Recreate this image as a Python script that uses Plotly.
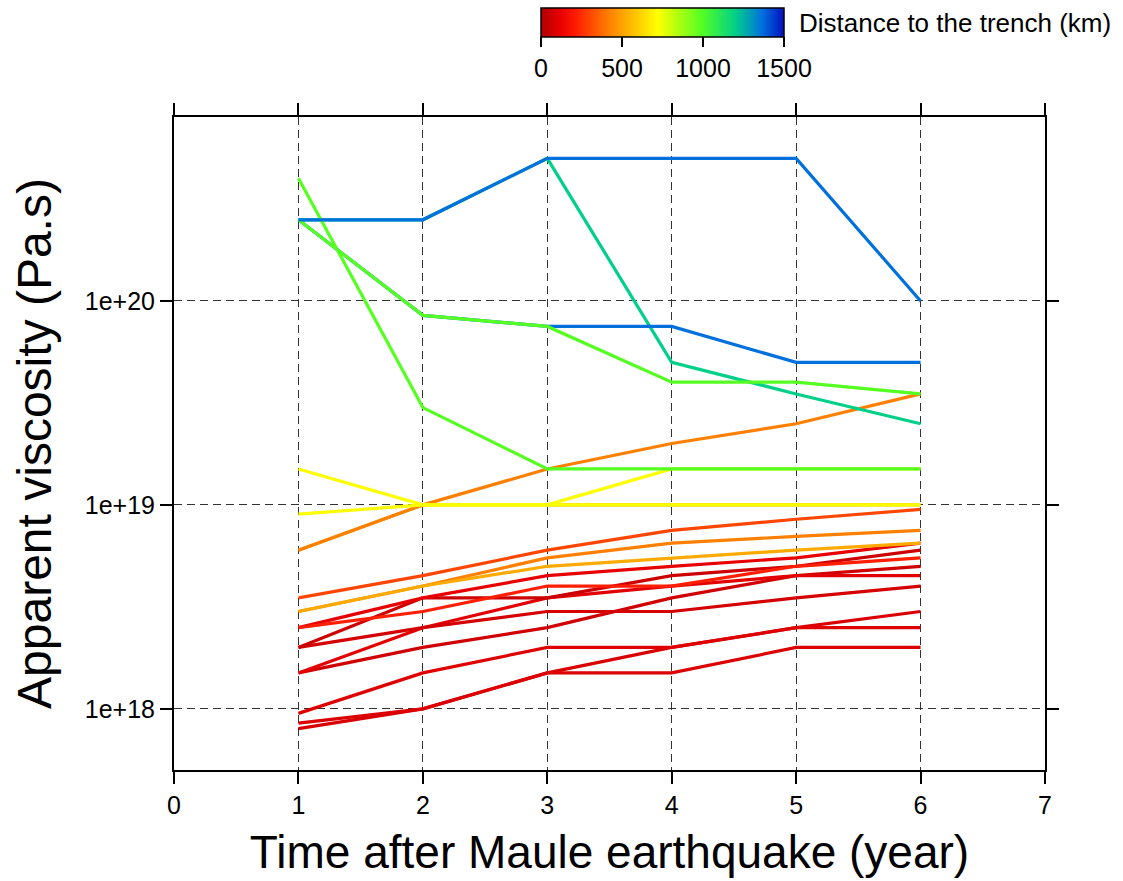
import plotly.graph_objects as go
from plotly.colors import sample_colorscale

# Years after the Maule earthquake
years = [1, 2, 3, 4, 5, 6]

# Distance of each station to the trench (km)
dist_L3 = 90
dist_L2 = 95
dist_L1 = 100
dist_R5 = 70
dist_R4 = 110
dist_R3 = 80
dist_R2 = 60
dist_R1 = 120
dist_OR = 220
dist_RO1 = 300
dist_O2 = 420
dist_AM = 520
dist_AM2 = 520
dist_OT = 420
dist_YA = 725
dist_YB = 725
dist_TE = 1200
dist_B2 = 1365
dist_GB = 990
dist_GA = 990
dist_B1 = 1365

# Apparent viscosity (Pa.s) per station
visc_L3 = [8.0e17, 1.0e18, 1.5e18, 2.0e18, 2.5e18, 3.0e18]
visc_L2 = [8.5e17, 1.0e18, 1.5e18, 1.5e18, 2.0e18, 2.0e18]
visc_L1 = [9.5e17, 1.5e18, 2.0e18, 2.0e18, 2.5e18, 2.5e18]
visc_R5 = [1.5e18, 2.0e18, 2.5e18, 3.5e18, 4.5e18, 5.0e18]
visc_R4 = [1.5e18, 2.5e18, 3.5e18, 4.0e18, 4.5e18, 4.5e18]
visc_R3 = [2.0e18, 2.5e18, 3.0e18, 3.0e18, 3.5e18, 4.0e18]
visc_R2 = [2.0e18, 3.5e18, 3.5e18, 4.5e18, 5.0e18, 6.0e18]
visc_R1 = [2.5e18, 3.5e18, 4.5e18, 5.0e18, 5.5e18, 6.5e18]
visc_OR = [2.5e18, 3.0e18, 4.0e18, 4.0e18, 5.0e18, 5.5e18]
visc_RO1 = [3.5e18, 4.5e18, 6.0e18, 7.5e18, 8.5e18, 9.5e18]
visc_O2 = [3.0e18, 4.0e18, 5.5e18, 6.5e18, 7.0e18, 7.5e18]
visc_AM = [3.0e18, 4.0e18, 5.0e18, 5.5e18, 6.0e18, 6.5e18]
visc_AM2 = [6.0e18, 1.0e19, 1.0e19, 1.0e19, 1.0e19, 1.0e19]
visc_OT = [6.0e18, 1.0e19, 1.5e19, 2.0e19, 2.5e19, 3.5e19]
visc_YA = [1.5e19, 1.0e19, 1.0e19, 1.5e19, 1.5e19, 1.5e19]
visc_YB = [9.0e18, 1.0e19, 1.0e19, 1.0e19, 1.0e19, 1.0e19]
visc_TE = [2.5e20, 2.5e20, 5.0e20, 5.0e19, 3.5e19, 2.5e19]
visc_B2 = [2.5e20, 8.5e19, 7.5e19, 7.5e19, 5.0e19, 5.0e19]
visc_GB = [2.5e20, 8.5e19, 7.5e19, 4.0e19, 4.0e19, 3.5e19]
visc_GA = [4.0e20, 3.0e19, 1.5e19, 1.5e19, 1.5e19, 1.5e19]
visc_B1 = [2.5e20, 2.5e20, 5.0e20, 5.0e20, 5.0e20, 1.0e20]

# Drawing order (later lines on top)
stations = [
    (dist_L3, visc_L3), (dist_L2, visc_L2), (dist_L1, visc_L1),
    (dist_R5, visc_R5), (dist_R4, visc_R4), (dist_R3, visc_R3),
    (dist_R2, visc_R2), (dist_R1, visc_R1), (dist_OR, visc_OR),
    (dist_RO1, visc_RO1), (dist_O2, visc_O2), (dist_AM, visc_AM),
    (dist_AM2, visc_AM2), (dist_OT, visc_OT), (dist_YA, visc_YA),
    (dist_YB, visc_YB), (dist_TE, visc_TE), (dist_B2, visc_B2),
    (dist_GB, visc_GB), (dist_GA, visc_GA), (dist_B1, visc_B1),
]

dist_min, dist_max = 0, 1500
cbar_ticks = [0, 500, 1000, 1500]
cbar_title = "Distance to the trench (km)"
y_ticks = [1e18, 1e19, 1e20]
y_ticktext = ["1e+18", "1e+19", "1e+20"]
x_ticks = [0, 1, 2, 3, 4, 5, 6, 7]

rainbow = [
    [0.00, "#b00000"],
    [0.08, "#e80000"],
    [0.14, "#ff1a00"],
    [0.28, "#ff8000"],
    [0.48, "#ffff00"],
    [0.66, "#55ff22"],
    [0.80, "#00d088"],
    [0.91, "#0070dd"],
    [1.00, "#0010c0"],
]

# plot area in pixels
L, R, T, B = 174, 1045, 117, 770
W, H = 1123, 881

fig = go.Figure()

for d, v in stations:
    c = sample_colorscale(rainbow, [(d - dist_min) / (dist_max - dist_min)])[0]
    fig.add_trace(go.Scatter(x=years, y=v, mode="lines",
                             line=dict(color=c, width=3.2),
                             showlegend=False, hoverinfo="skip"))

# Colour scale for the station distance
fig.add_trace(go.Scatter(
    x=[None], y=[None], mode="markers", showlegend=False,
    marker=dict(
        color=[dist_min], cmin=dist_min, cmax=dist_max, colorscale=rainbow,
        showscale=True,
        colorbar=dict(
            orientation="h",
            x=(541 - L) / (R - L), xanchor="left",
            y=(B - 8) / (B - T), yanchor="top",
            len=243, lenmode="pixels",
            thickness=29, thicknessmode="pixels",
            xpad=0, ypad=0,
            outlinewidth=1.5, outlinecolor="black",
            ticks="outside", ticklen=10, tickwidth=1.5, tickcolor="black",
            tickvals=cbar_ticks,
            tickfont=dict(size=25, color="black"),
        ),
    ),
))

fig.add_annotation(
    text=cbar_title, xref="paper", yref="paper",
    x=(797 - L) / (R - L), y=(B - 23) / (B - T),
    xanchor="left", yanchor="middle", showarrow=False,
    font=dict(size=26, color="black"),
)

fig.update_layout(
    width=W, height=H,
    margin=dict(l=L, r=W - R, t=T, b=H - B, autoexpand=False),
    paper_bgcolor="white", plot_bgcolor="white",
    font=dict(family="Liberation Sans, Arial, sans-serif", color="black"),
)

fig.update_xaxes(
    range=[0, 7], tickvals=x_ticks,
    showgrid=True, gridcolor="#333333", gridwidth=1, griddash="8px,5px",
    showline=True, linecolor="black", linewidth=2, mirror="ticks",
    ticks="outside", ticklen=12, tickwidth=1.5, tickcolor="black",
    tickfont=dict(size=25), zeroline=False,
    title=dict(text="Time after Maule earthquake (year)",
               font=dict(size=46), standoff=18),
)

fig.update_yaxes(
    type="log", range=[17.70, 20.902],
    tickvals=y_ticks, ticktext=y_ticktext,
    showgrid=True, gridcolor="#333333", gridwidth=1, griddash="8px,5px",
    showline=True, linecolor="black", linewidth=2, mirror="ticks",
    ticks="outside", ticklen=12, tickwidth=1.5, tickcolor="black",
    tickfont=dict(size=25), zeroline=False,
    title=dict(text="Apparent viscosity (Pa.s)",
               font=dict(size=48), standoff=18),
)

fig.write_html("out.html")
